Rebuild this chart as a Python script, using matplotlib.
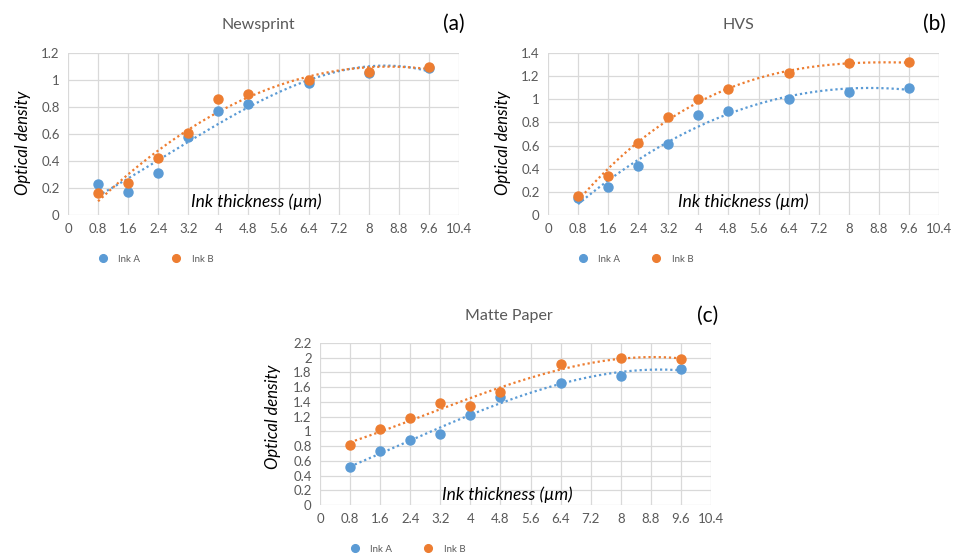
import numpy as np
import matplotlib
matplotlib.use('Agg')
import matplotlib.pyplot as plt
from matplotlib.ticker import FuncFormatter

plt.rcParams['font.family'] = ['Lato', 'DejaVu Sans']

# ink thickness (um)
thickness = [0.8, 1.6, 2.4, 3.2, 4.0, 4.8, 6.4, 8.0, 9.6]

news_a = [0.23, 0.17, 0.31, 0.58, 0.77, 0.82, 0.98, 1.05, 1.09]
news_b = [0.16, 0.24, 0.42, 0.61, 0.86, 0.90, 1.00, 1.06, 1.10]

hvs_a = [0.15, 0.24, 0.42, 0.61, 0.86, 0.90, 1.00, 1.06, 1.10]
hvs_b = [0.16, 0.34, 0.62, 0.85, 1.00, 1.09, 1.23, 1.31, 1.32]

matte_a = [0.52, 0.73, 0.88, 0.96, 1.22, 1.47, 1.66, 1.75, 1.85]
matte_b = [0.81, 1.03, 1.18, 1.38, 1.35, 1.53, 1.91, 1.99, 1.98]

BLUE = '#5B9BD5'
ORANGE = '#ED7D31'
GRAY = '#595959'
W, H = 958, 557


def px_axes(fig, x0, x1, ytop, ybot):
	# pixel box -> figure fraction
	return fig.add_axes([x0 / W, 1 - ybot / H, (x1 - x0) / W, (ybot - ytop) / H])


def fmt(v, pos):
	return f'{round(v, 2):g}'


def panel(fig, box, ya, yb, ymax, title, tag, title_xy, tag_xy, ylab_xy, xlab_xy, leg_y):
	ax = px_axes(fig, *box)
	x = np.array(thickness)
	xs = np.linspace(0.8, 9.6, 200)
	handles = []
	for y, c, lab in [(ya, BLUE, 'Ink A'), (yb, ORANGE, 'Ink B')]:
		# Excel-style polynomial trendline (order 3)
		p = np.polyfit(x, y, 3)
		ax.plot(xs, np.polyval(p, xs), linestyle=(0, (1, 1.3)), color=c, lw=1.6, zorder=2)
		h, = ax.plot(x, y, 'o', color=c, ms=6.5, label=lab, zorder=3)
		handles.append(h)

	ax.set_xlim(0, 10.4)
	ax.set_ylim(0, ymax)
	ax.set_xticks(np.arange(0, 10.41, 0.8))
	ax.set_yticks(np.arange(0, ymax + 0.01, 0.2))
	ax.xaxis.set_major_formatter(FuncFormatter(fmt))
	ax.yaxis.set_major_formatter(FuncFormatter(fmt))
	ax.grid(True, color='#D9D9D9', lw=0.9)
	ax.set_axisbelow(True)
	for s in ax.spines.values():
		s.set_visible(False)
	ax.tick_params(length=0, labelsize=9.5, labelcolor=GRAY, pad=6)

	fig.text(title_xy[0] / W, 1 - title_xy[1] / H, title, ha='center', va='center',
			 fontsize=11.5, color=GRAY)
	fig.text(tag_xy[0] / W, 1 - tag_xy[1] / H, tag, ha='center', va='center',
			 fontsize=15, color='black')
	fig.text(ylab_xy[0] / W, 1 - ylab_xy[1] / H, 'Optical density', rotation=90,
			 ha='center', va='center', fontsize=12, style='italic')
	fig.text(xlab_xy[0] / W, 1 - xlab_xy[1] / H, 'Ink thickness (µm)',
			 ha='center', va='center', fontsize=12.5, style='italic')

	leg = ax.legend(handles=handles, ncol=2, frameon=False, loc='center left',
					bbox_to_anchor=((box[0] + 21) / W, 1 - leg_y / H),
					bbox_transform=fig.transFigure, fontsize=7, markerscale=0.85,
					handlelength=1.0, handletextpad=1.1, columnspacing=3.2)
	for t in leg.get_texts():
		t.set_color(GRAY)
	return ax


fig = plt.figure(figsize=(W / 100, H / 100), dpi=100)

panel(fig, (68, 459, 53, 215), news_a, news_b, 1.2, 'Newsprint', '(a)',
	  (258, 25), (454, 24), (23, 143), (256, 202), 259)
panel(fig, (548, 939, 53, 215), hvs_a, hvs_b, 1.4, 'HVS', '(b)',
	  (738, 25), (934, 24), (503, 143), (743, 202), 259)
panel(fig, (320, 711, 343, 505), matte_a, matte_b, 2.2, 'Matte Paper', '(c)',
	  (509, 316), (708, 316), (273, 417), (507, 495), 549)

fig.savefig('out.png', dpi=100)
